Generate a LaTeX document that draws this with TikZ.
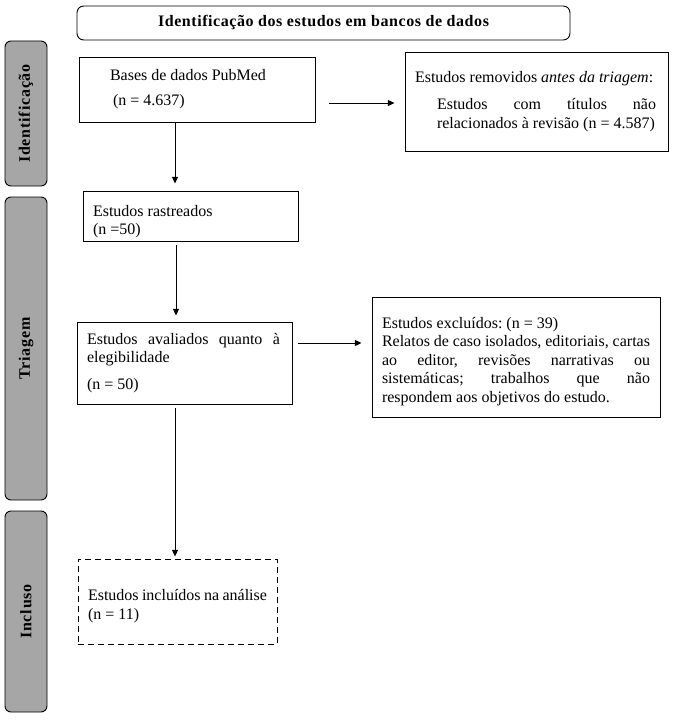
\documentclass[tikz,border=0pt]{standalone}
\usepackage{fontspec}
\setmainfont{Liberation Serif}
\newfontfamily\tabfont[LetterSpace=5]{Liberation Serif}
\newfontfamily\headfont[LetterSpace=3.5]{Liberation Serif}
\usetikzlibrary{arrows.meta}

\definecolor{tabgray}{RGB}{166,166,166}

\tikzset{
  box/.style={draw, line width=0.7pt, inner xsep=7.5pt, inner ysep=0pt, align=justify,
    font=\fontsize{12}{13.9}\selectfont\frenchspacing},
  tab/.style={draw, line width=0.7pt, fill=tabgray, rounded corners=4.5pt, rotate=90,
    minimum height=31.5pt, inner sep=0pt, font=\tabfont\bfseries\fontsize{12}{14}\selectfont},
  arr/.style={-{Triangle[length=5pt,width=4.5pt]}, line width=0.7pt},
}

\begin{document}
\begin{tikzpicture}[x=0.75pt,y=-0.75pt]
\useasboundingbox (0,0) rectangle (693,724);

% side tabs
\foreach \nm/\cy/\len/\txt in {idtab/113.5/108.75pt/Identificação,
                                tritab/348.5/227.25pt/Triagem,
                                inctab/611.5/150.75pt/Incluso}
  \node[tab, minimum width=\len] (\nm) at (26,\cy) {\txt};

% heading
\node[box, rounded corners=5pt, minimum width=369.75pt, minimum height=25.5pt, align=center,
  font=\headfont\bfseries\fontsize{12}{14}\selectfont] (title) at (323.5,23)
  {Identificação dos estudos em bancos de dados};

% boxes
\node[box, text width=162pt, minimum height=48.75pt] (pub) at (197,89.5)
  {\hspace*{15.75pt}Bases de dados PubMed\\[5pt]\hspace*{18pt}(n = 4.637)};
\node[box, text width=182.25pt, minimum height=74.25pt] (rem) at (536.5,101.5)
  {Estudos removidos \textit{antes da triagem}:\\[6.4pt]
   \hspace*{16.5pt}\makebox[164.25pt][s]{Estudos com títulos não}\\
   \hspace*{16.5pt}relacionados à revisão (n = 4.587)};
\node[box, text width=146.25pt, minimum height=37.5pt] (ras) at (190.5,216)
  {\rule{0pt}{16.5pt}Estudos rastreados\\(n =50)};
\node[box, text width=146.25pt, minimum height=61.5pt] (ava) at (184.5,363)
  {\makebox[144.75pt][s]{Estudos avaliados quanto à}\\elegibilidade\\[6pt](n = 50)};
\node[box, text width=201pt, minimum height=90pt] (exc) at (516,357)
  {\rule{0pt}{15pt}Estudos excluídos: (n = 39)\\
   \makebox[201pt][s]{Relatos de caso isolados, editoriais, cartas}\\
   \makebox[201pt][s]{ao editor, revisões narrativas ou}\\
   \makebox[201pt][s]{sistemáticas; trabalhos que não}\\
   respondem aos objetivos do estudo.};
\node[box, dash pattern=on 4.5pt off 3pt, text width=134.25pt, minimum height=63.75pt] (inc)
  at (177.5,601.5) {\rule{0pt}{15pt}Estudos incluídos na análise\\(n = 11)};

% arrows
\coordinate (rowA) at (0,103);
\coordinate (rowB) at (0,343);
\coordinate (colA) at (175,0);
\coordinate (colB) at (176,0);
\draw[arr, shorten <=10.5pt, shorten >=7.5pt] (pub.east |- rowA) -- (rem.west |- rowA);
\draw[arr, shorten >=5.25pt] (pub.south -| colA) -- (ras.north -| colA);
\draw[arr, shorten <=3pt, shorten >=4.5pt] (ras.south -| colB) -- (ava.north -| colB);
\draw[arr, shorten <=4.5pt, shorten >=7.5pt] (ava.east |- rowB) -- (exc.west |- rowB);
\draw[arr, shorten <=3pt, shorten >=1.5pt] (ava.south -| colA) -- (inc.north -| colA);
\end{tikzpicture}
\end{document}
